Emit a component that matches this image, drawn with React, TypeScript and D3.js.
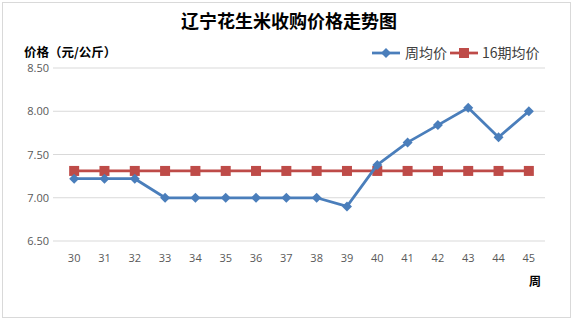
import React from "react";
import * as d3 from "d3";

const weeks = ["30","31","32","33","34","35","36","37","38","39","40","41","42","43","44","45"];
const weeklyAvg = [7.22,7.22,7.22,7.0,7.0,7.0,7.0,7.0,7.0,6.9,7.38,7.64,7.84,8.04,7.7,8.0];
const avg16 = [7.31,7.31,7.31,7.31,7.31,7.31,7.31,7.31,7.31,7.31,7.31,7.31,7.31,7.31,7.31,7.31];
const yTicks = [6.5,7.0,7.5,8.0,8.5];
const seriesNames = ["周均价","16期均价"];

const W = 577, H = 324;
const BLUE = "#4a7ebb";
const RED = "#be4b48";

export default function App() {
  const x = d3.scaleBand<string>().domain(weeks).range([59, 544]);
  const y = d3.scaleLinear().domain([6.5, 8.5]).range([241, 68]);
  const cx = (d: string) => (x(d) as number) + x.bandwidth() / 2;
  const line = d3.line<number>().x((_, i) => cx(weeks[i])).y((v) => y(v));
  const diamond = (px: number, py: number, r: number) =>
    `M${px},${py - r}L${px + r},${py}L${px},${py + r}L${px - r},${py}Z`;
  const tickFont = "'Open Sans', 'Liberation Sans', sans-serif";
  const cjk = "'Noto Sans CJK SC', sans-serif";
  return (
    <svg width={W} height={H} style={{ position: "absolute", left: 0, top: 0, background: "#fff" }}>
      <rect x={2.5} y={2.5} width={568} height={315} fill="#fff" stroke="#d9d9d9" />
      <text x={289} y={28} textAnchor="middle" fontFamily={cjk} fontWeight="bold" fontSize={18} fill="#000">
        辽宁花生米收购价格走势图
      </text>
      <text x={24} y={57} fontFamily={cjk} fontWeight="bold" fontSize={12.5} fill="#000">
        价格（元/公斤）
      </text>
      {yTicks.map((t) => (
        <g key={t}>
          <line x1={53} x2={545} y1={y(t)} y2={y(t)} stroke="#d9d9d9" strokeWidth={1} />
          <text x={49} y={y(t) + 4} textAnchor="end" fontFamily={tickFont} fontSize={11} fill="#595959">
            {t.toFixed(2)}
          </text>
        </g>
      ))}
      {weeks.map((w) => (
        <text key={w} x={cx(w)} y={262} textAnchor="middle" fontFamily={tickFont} fontSize={11} fill="#595959">
          {w}
        </text>
      ))}
      <text x={535} y={286} textAnchor="middle" fontFamily={cjk} fontWeight="bold" fontSize={12} fill="#000">周</text>
      <path d={line(avg16) || ""} fill="none" stroke={RED} strokeWidth={2.75} />
      {avg16.map((v, i) => (
        <rect key={i} x={cx(weeks[i]) - 5} y={y(v) - 5} width={10} height={10} fill={RED} />
      ))}
      <path d={line(weeklyAvg) || ""} fill="none" stroke={BLUE} strokeWidth={2.75} strokeLinejoin="round" />
      {weeklyAvg.map((v, i) => (
        <path key={i} d={diamond(cx(weeks[i]), y(v), 5)} fill={BLUE} />
      ))}
      <g>
        <line x1={372} x2={400} y1={53} y2={53} stroke={BLUE} strokeWidth={2.75} />
        <path d={diamond(386, 53, 5)} fill={BLUE} />
        <text x={405} y={58} fontFamily={cjk} fontSize={14} fill="#404040">{seriesNames[0]}</text>
        <line x1={450} x2={478} y1={53} y2={53} stroke={RED} strokeWidth={2.75} />
        <rect x={459} y={48} width={10} height={10} fill={RED} />
        <text x={482} y={58} fontFamily={cjk} fontSize={14} fill="#404040">{seriesNames[1]}</text>
      </g>
    </svg>
  );
}
